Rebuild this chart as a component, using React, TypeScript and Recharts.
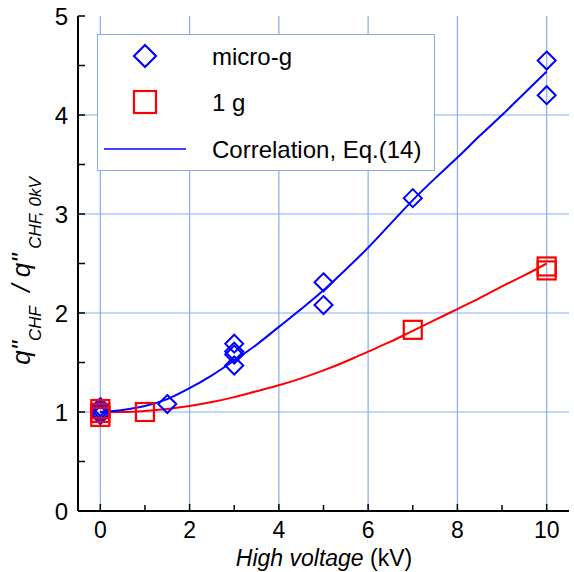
import React from 'react';
import {
  ComposedChart, Line, Scatter, XAxis, YAxis, ReferenceLine,
} from 'recharts';

// measured points (kV, ratio)
const microGX = [0, 0, 0, 0, 1.5, 3, 3, 3, 3, 5, 5, 7, 10, 10];
const microGY = [1.05, 1.02, 0.99, 0.97, 1.08, 1.69, 1.61, 1.58, 1.47, 2.31, 2.08, 3.16, 4.55, 4.2];

const oneGX = [0, 0, 0, 1, 7, 10, 10];
const oneGY = [1.03, 0.99, 0.95, 1.0, 1.83, 2.47, 2.43];

// correlation curves
const corrX = [0, 0.5, 1, 1.5, 2, 2.5, 3, 3.5, 4, 4.5, 5, 5.5, 6, 6.5, 7, 7.5, 8, 8.5, 9, 9.5, 10];
const corrMicroG = [1.0, 1.02, 1.06, 1.13, 1.24, 1.37, 1.52, 1.68, 1.86, 2.04, 2.23, 2.44, 2.66, 2.9, 3.14, 3.36, 3.57, 3.79, 4.0, 4.22, 4.44];
const corrOneG = [1.0, 1.0, 1.01, 1.03, 1.06, 1.1, 1.15, 1.21, 1.27, 1.34, 1.42, 1.51, 1.61, 1.71, 1.82, 1.93, 2.04, 2.15, 2.27, 2.38, 2.5];

const xTicks = [0, 1, 2, 3, 4, 5, 6, 7, 8, 9, 10];
const yTicks = [0, 0.5, 1, 1.5, 2, 2.5, 3, 3.5, 4, 4.5, 5];
const xGrid = [0, 2, 4, 6, 8, 10];
const yGrid = [1, 2, 3, 4];

const microG = microGX.map((x, i) => ({ x, y: microGY[i] }));
const oneG = oneGX.map((x, i) => ({ x, y: oneGY[i] }));
const corrBlue = corrX.map((x, i) => ({ x, y: corrMicroG[i] }));
const corrRed = corrX.map((x, i) => ({ x, y: corrOneG[i] }));

const FONT = 'Arial, "Liberation Sans", sans-serif';
const GRID = '#86acf5';
const BLUE = '#0000ff';
const RED = '#ff0000';

const isMajor = (v: number) => Math.abs(v - Math.round(v)) < 1e-6;

const BottomTick = (p: any) => {
  const v = p.payload.value;
  const major = v % 2 === 0;
  return (
    <g>
      <line x1={p.x} y1={p.y} x2={p.x} y2={p.y - (major ? 7 : 6)} stroke="#000" strokeWidth={1.5} />
      {major && (
        <text x={p.x} y={p.y + 27} textAnchor="middle" fontSize={23} fontFamily={FONT} fill="#000">{v}</text>
      )}
    </g>
  );
};

const TopTick = (p: any) => (
  <line x1={p.x} y1={p.y} x2={p.x} y2={p.y + 6} stroke="#000" strokeWidth={1.5} />
);

const LeftTick = (p: any) => {
  const v = p.payload.value;
  return (
    <g>
      <line x1={p.x} y1={p.y} x2={p.x + 7} y2={p.y} stroke="#000" strokeWidth={1.5} />
      {isMajor(v) && (
        <text x={p.x - 10} y={p.y + 9} textAnchor="end" fontSize={24} fontFamily={FONT} fill="#000">{v}</text>
      )}
    </g>
  );
};

const RightTick = (p: any) => (
  <line x1={p.x} y1={p.y} x2={p.x - 7} y2={p.y} stroke="#000" strokeWidth={1.5} />
);

const Diamond = (p: any) => {
  const r = 9;
  const { cx, cy } = p;
  return <path d={`M${cx},${cy - r}L${cx + r},${cy}L${cx},${cy + r}L${cx - r},${cy}Z`} fill="none" stroke={BLUE} strokeWidth={2} />;
};

const Square = (p: any) => {
  const h = 9;
  const { cx, cy } = p;
  return <rect x={cx - h} y={cy - h} width={2 * h} height={2 * h} fill="none" stroke={RED} strokeWidth={2.2} />;
};

export default function App() {
  return (
    <div style={{ position: 'absolute', left: 0, top: 0, width: 574, height: 572, background: '#fff' }}>
      <ComposedChart width={574} height={572} margin={{ top: 16, right: 5, bottom: 0, left: 0 }}>
        <XAxis
          xAxisId="x" type="number" dataKey="x" domain={[-0.5, 10.5]} ticks={xTicks} interval={0}
          tickSize={0} tickMargin={0} height={61} tickLine={false}
          axisLine={{ stroke: '#000', strokeWidth: 2 }} tick={BottomTick} allowDataOverflow
        />
        <XAxis
          xAxisId="top" orientation="top" type="number" dataKey="x" domain={[-0.5, 10.5]} ticks={xTicks} interval={0}
          tickSize={0} tickMargin={0} height={0} tickLine={false}
          axisLine={{ stroke: '#000', strokeWidth: 2 }} tick={TopTick} allowDataOverflow
        />
        <YAxis
          yAxisId="y" type="number" domain={[0, 5]} ticks={yTicks} interval={0}
          tickSize={0} tickMargin={0} width={78} tickLine={false}
          axisLine={{ stroke: '#000', strokeWidth: 2 }} tick={LeftTick} allowDataOverflow
        />
        <YAxis
          yAxisId="right" orientation="right" type="number" domain={[0, 5]} ticks={yTicks} interval={0}
          tickSize={0} tickMargin={0} width={0} tickLine={false}
          axisLine={{ stroke: '#000', strokeWidth: 2 }} tick={RightTick} allowDataOverflow
        />
        {xGrid.map((v) => (
          <ReferenceLine key={`gx${v}`} xAxisId="x" yAxisId="y" x={v} stroke={GRID} strokeWidth={1.2} />
        ))}
        {yGrid.map((v) => (
          <ReferenceLine key={`gy${v}`} xAxisId="x" yAxisId="y" y={v} stroke={GRID} strokeWidth={1.2} />
        ))}
        <Line xAxisId="x" yAxisId="y" data={corrRed} dataKey="y" type="monotone" stroke={RED} strokeWidth={2}
          dot={false} activeDot={false} isAnimationActive={false} />
        <Line xAxisId="x" yAxisId="y" data={corrBlue} dataKey="y" type="monotone" stroke={BLUE} strokeWidth={2}
          dot={false} activeDot={false} isAnimationActive={false} />
        <Scatter xAxisId="x" yAxisId="y" data={microG} dataKey="y" shape={Diamond} isAnimationActive={false} />
        <Scatter xAxisId="x" yAxisId="y" data={oneG} dataKey="y" shape={Square} isAnimationActive={false} />
      </ComposedChart>

      {/* axis titles */}
      <svg width={574} height={572} style={{ position: 'absolute', left: 0, top: 0, pointerEvents: 'none' }}>
        <text x={324} y={566} textAnchor="middle" fontSize={23} fontFamily={FONT} fill="#000">
          <tspan fontStyle="italic">High voltage</tspan> (kV)
        </text>
        <text transform="translate(30,271) rotate(-90)" textAnchor="middle" fontSize={26} fontFamily={FONT}
          fontStyle="italic" fill="#000">
          <tspan>q"</tspan>
          <tspan fontSize={17} dy={11}>CHF</tspan>
          <tspan dy={-11} xmlSpace="preserve">{'  / q"'}</tspan>
          <tspan fontSize={17} dy={11} xmlSpace="preserve">{' CHF, 0kV'}</tspan>
        </text>
      </svg>

      {/* legend */}
      <div style={{
        position: 'absolute', left: 97, top: 34, width: 336, height: 135, background: '#fff',
        border: `1px solid ${GRID}`, fontFamily: FONT, fontSize: 24, color: '#000',
      }}>
        <svg width={336} height={135} style={{ position: 'absolute', left: 0, top: 0 }}>
          <path d="M47,10L58,21L47,32L36,21Z" fill="none" stroke={BLUE} strokeWidth={2.2} />
          <rect x={36} y={56} width={22} height={22} fill="none" stroke={RED} strokeWidth={2.2} />
          <line x1={6} y1={114} x2={88} y2={114} stroke={BLUE} strokeWidth={1.5} />
          <text x={114} y={30} fontSize={24} fontFamily={FONT}>micro-g</text>
          <text x={114} y={76} fontSize={24} fontFamily={FONT}>1 g</text>
          <text x={114} y={123} fontSize={24} fontFamily={FONT}>Correlation, Eq.(14)</text>
        </svg>
      </div>
    </div>
  );
}
